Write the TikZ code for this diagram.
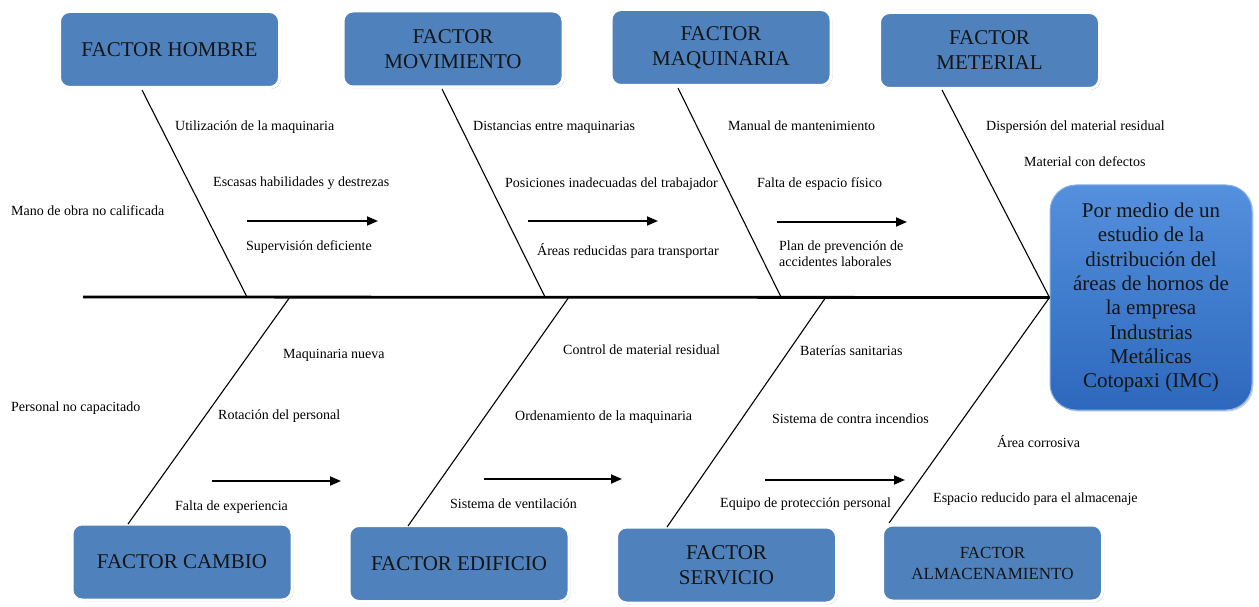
\documentclass[tikz,border=0pt]{standalone}
\usepackage{fontspec}
\setmainfont{Liberation Serif}
\usetikzlibrary{shadows,arrows.meta}
\definecolor{boxblue}{HTML}{4F81BD}
\definecolor{restop}{HTML}{5490DD}
\definecolor{resbot}{HTML}{2D68BD}
\definecolor{txtdark}{HTML}{151515}
\begin{document}
\begin{tikzpicture}[x=1pt,y=-1pt,
  shad/.style={drop shadow={shadow xshift=1.5pt, shadow yshift=-1.5pt, opacity=0.35, fill=gray}},
  factor/.style={rectangle, rounded corners=10pt, fill=boxblue, draw=white, line width=3pt,
    minimum width=220pt, minimum height=76pt, align=center, text=txtdark,
    font=\fontsize{21}{25}\selectfont, shad},
  lbl/.style={anchor=base west, inner sep=0pt, font=\fontsize{14}{16}\selectfont, text=black},
  bone/.style={line width=1.1pt, draw=black},
  flow/.style={line width=1.8pt, -{Triangle[length=11pt,width=9pt]}}
]
\useasboundingbox[fill=white] (0,0) rectangle (1259,607);

% factor boxes
\node[factor] (hombre) at (169.5,49.5) {FACTOR HOMBRE};
\node[factor] (movim) at (453,49) {FACTOR\\MOVIMIENTO};
\node[factor] (maqui) at (721,47.5) {FACTOR\\MAQUINARIA};
\node[factor] (mater) at (989.5,50.5) {FACTOR\\METERIAL};
\node[factor] (cambio) at (182,562) {FACTOR CAMBIO};
\node[factor] (edif) at (459,563.5) {FACTOR EDIFICIO};
\node[factor] (serv) at (726.5,565) {FACTOR\\SERVICIO};
\node[factor, font=\fontsize{17}{21}\selectfont] (alma) at (992.5,563) {FACTOR\\ALMACENAMIENTO};

% result box
\node[rectangle, rounded corners=26pt, top color=restop, bottom color=resbot, draw=restop!70!white,
  line width=1pt, minimum width=202pt, minimum height=225pt, align=center, text=txtdark,
  font=\fontsize{21}{24.3}\selectfont, shad] (res) at (1151,297.5)
  {Por medio de un\\estudio de la\\distribución del\\áreas de hornos de\\la empresa\\Industrias\\Metálicas\\Cotopaxi (IMC)};

% spine
\coordinate (tail) at (83,297);
\draw[line width=2.8pt] (tail) -- (res.west);

% bone ends
\coordinate (h0) at (142,90);  \coordinate (h1) at (247,297);
\coordinate (m0) at (442,89);  \coordinate (m1) at (545,297);
\coordinate (q0) at (678,88);  \coordinate (q1) at (781,297);
\coordinate (t0) at (942,90);
\coordinate (c0) at (128,524); \coordinate (c1) at (290,297);
\coordinate (e0) at (408,526); \coordinate (e1) at (569,297);
\coordinate (s0) at (667,527); \coordinate (s1) at (826,297);
\coordinate (a0) at (889,523);

\draw[bone] (h0) -- (h1);
\draw[bone] (m0) -- (m1);
\draw[bone] (q0) -- (q1);
\draw[bone] (t0) -- (res.west);
\draw[bone] (c0) -- (c1);
\draw[bone] (e0) -- (e1);
\draw[bone] (s0) -- (s1);
\draw[bone] (a0) -- (res.west);

% small arrows
\coordinate (ta1) at (247,221); \coordinate (tb1) at (378,221);
\coordinate (ta2) at (528,221); \coordinate (tb2) at (658,221);
\coordinate (ta3) at (777,222); \coordinate (tb3) at (907,222);
\coordinate (ba1) at (212,481); \coordinate (bb1) at (341,481);
\coordinate (ba2) at (484,479); \coordinate (bb2) at (622,479);
\coordinate (ba3) at (765,480); \coordinate (bb3) at (905,480);
\draw[flow] (ta1) -- (tb1);
\draw[flow] (ta2) -- (tb2);
\draw[flow] (ta3) -- (tb3);
\draw[flow] (ba1) -- (bb1);
\draw[flow] (ba2) -- (bb2);
\draw[flow] (ba3) -- (bb3);

% labels top
\node[lbl] (l1) at (175,131) {Utilización de la maquinaria};
\node[lbl] (l2) at (213,186) {Escasas habilidades y destrezas};
\node[lbl] (l3) at (11,215) {Mano de obra no calificada};
\node[lbl] (l4) at (246,250) {Supervisión deficiente};
\node[lbl] (l5) at (473,131) {Distancias entre maquinarias};
\node[lbl] (l6) at (505,188) {Posiciones inadecuadas del trabajador};
\node[lbl] (l7) at (537,255) {Áreas reducidas para transportar};
\node[lbl] (l8) at (728,131) {Manual de mantenimiento};
\node[lbl] (l9) at (757,187) {Falta de espacio físico};
\node[lbl] (l10) at (779,250) {Plan de prevención de};
\node[lbl] (l11) at (779,266) {accidentes laborales};
\node[lbl] (l12) at (986,131) {Dispersión del material residual};
\node[lbl] (l13) at (1024,167) {Material con defectos};
% labels bottom
\node[lbl] (b1) at (283,358) {Maquinaria nueva};
\node[lbl] (b2) at (11,411) {Personal no capacitado};
\node[lbl] (b3) at (218,419) {Rotación del personal};
\node[lbl] (b4) at (175,510) {Falta de experiencia};
\node[lbl] (b5) at (563,354) {Control de material residual};
\node[lbl] (b6) at (515,420) {Ordenamiento de la maquinaria};
\node[lbl] (b7) at (450,508) {Sistema de ventilación};
\node[lbl] (b8) at (800,355) {Baterías sanitarias};
\node[lbl] (b9) at (772,423) {Sistema de contra incendios};
\node[lbl] (b10) at (720,507) {Equipo de protección personal};
\node[lbl] (b11) at (997,447) {Área corrosiva};
\node[lbl] (b12) at (933,502) {Espacio reducido para el almacenaje};
\end{tikzpicture}
\end{document}
